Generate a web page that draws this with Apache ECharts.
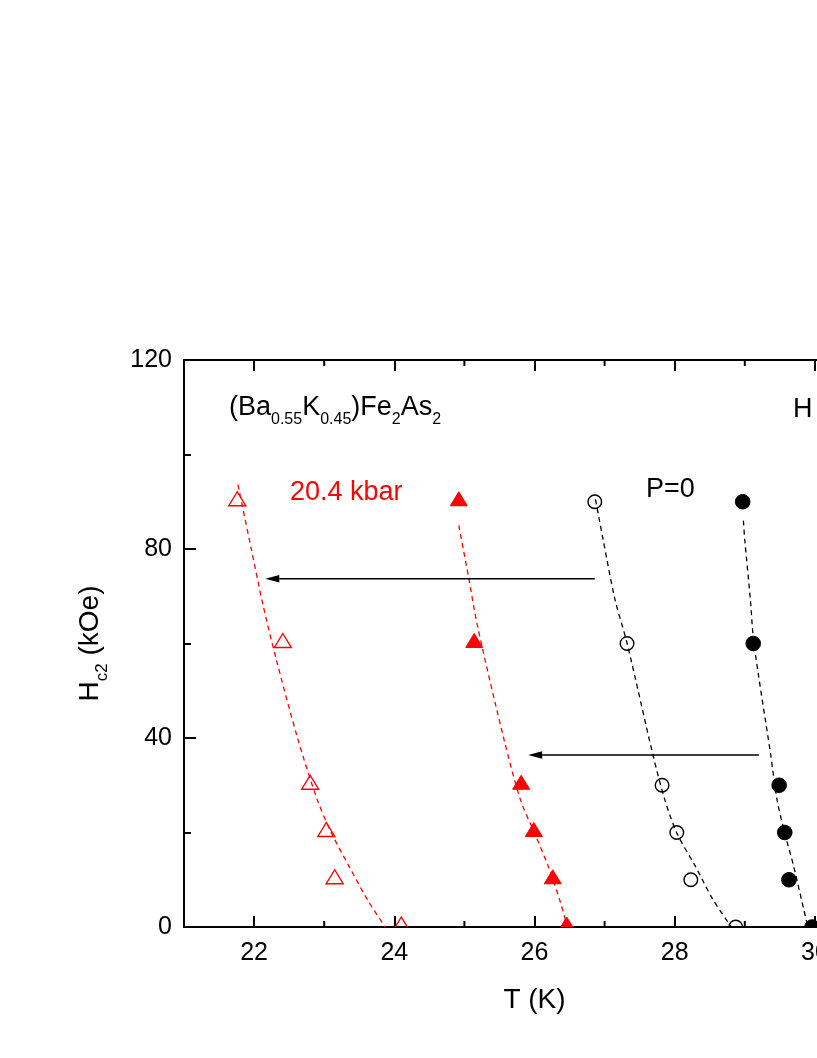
<!DOCTYPE html>
<html>
<head>
<meta charset="utf-8">
<script src="https://cdn.jsdelivr.net/npm/echarts@6/dist/echarts.min.js"></script>
<style>html,body{margin:0;padding:0;background:#fff}#c{width:817px;height:1058px}</style>
</head>
<body>
<div id="c"></div>
<script>
// ---- data ----
const hLevels = [90, 60, 30, 20, 10, 0];
const tOpenTri = [21.76, 22.41, 22.80, 23.03, 23.15, 24.10];   // 20.4 kbar, open triangles
const tFillTri = [24.92, 25.14, 25.81, 25.99, 26.26, 26.46];   // 20.4 kbar, filled triangles
const tOpenCirc = [26.86, 27.32, 27.82, 28.03, 28.23, 28.87];  // P=0, open circles
const tFillCirc = [28.97, 29.12, 29.49, 29.57, 29.63, 29.96];  // P=0, filled circles

const fitOpenTriT = [21.77, 21.96, 22.13, 22.31, 22.62, 22.90, 23.10, 23.36, 23.62, 23.87];
const fitOpenTriH = [93.6, 80, 68, 57, 40, 27, 20, 12.7, 5.7, 0];
const fitFillTriT = [24.92, 25.06, 25.19, 25.56, 25.80, 26.00, 26.20, 26.36, 26.47];
const fitFillTriH = [85, 74, 63.5, 40, 26.9, 19.9, 12.7, 5.7, 0];
const fitOpenCircT = [26.87, 26.98, 27.15, 27.32, 27.69, 27.86, 28.03, 28.30, 28.55, 28.81];
const fitOpenCircH = [90.5, 81.9, 69.2, 60.1, 36.4, 26.9, 19.9, 12.7, 5.7, 0];
const fitFillCircT = [28.98, 29.00, 29.08, 29.13, 29.37, 29.46, 29.57, 29.70, 29.81, 29.90];
const fitFillCircH = [86, 81.9, 69.2, 60.1, 36.4, 26.9, 19.9, 12.7, 5.7, 0];

const arrowStartT = [26.86, 29.20];
const arrowEndT = [22.16, 25.91];
const arrowH = [73.7, 36.4];

const xMin = 21, xMax = 31;
const xMajorTicks = [22, 24, 26, 28, 30];
const xMinorTicks = [23, 25, 27, 29];
const yMin = 0, yMax = 120, yInterval = 40;

// ---- chart ----
const FONT = 'Liberation Sans, Arial, sans-serif';
const RED = '#ff0000';
const chart = echarts.init(document.getElementById('c'), null, {renderer: 'canvas'});

function pairs(xs, ys) { return xs.map((x, i) => [x, ys[i]]); }

function markerSeries(ts, shape, filled, color) {
  return {
    type: 'custom', clip: true, z: 5,
    data: pairs(ts, hLevels),
    renderItem: (params, api) => {
      const p = api.coord([api.value(0), api.value(1)]);
      const style = filled ? {fill: color, stroke: color, lineWidth: 1}
                           : {fill: 'none', stroke: color, lineWidth: 1.4};
      if (shape === 'circle') {
        return {type: 'circle', shape: {cx: p[0], cy: p[1], r: filled ? 7.3 : 6.8}, style};
      }
      return {type: 'polygon', shape: {points: [[p[0], p[1] - 10], [p[0] + 8.5, p[1] + 4], [p[0] - 8.5, p[1] + 4]]}, style};
    }
  };
}

function fitSeries(ts, hs, color) {
  return {
    type: 'line', data: pairs(ts, hs), smooth: 0.3, symbol: 'none', z: 3,
    lineStyle: {color, width: 1.3, type: [5, 4]}
  };
}

function minorTickSeries(yVal, dir) {
  return {
    type: 'custom', clip: false, z: 6, silent: true,
    data: xMinorTicks.map(v => [v, yVal]),
    renderItem: (params, api) => {
      const p = api.coord([api.value(0), api.value(1)]);
      return {type: 'line', shape: {x1: p[0], y1: p[1], x2: p[0], y2: p[1] + dir * 6},
              style: {stroke: '#000', lineWidth: 2}};
    }
  };
}

const arrowSeries = {
  type: 'custom', clip: false, z: 4, silent: true,
  data: arrowH.map((h, i) => [arrowStartT[i], h, arrowEndT[i]]),
  renderItem: (params, api) => {
    const p1 = api.coord([api.value(0), api.value(1)]);
    const p2 = api.coord([api.value(2), api.value(1)]);
    const dx = p2[0] - p1[0], dy = p2[1] - p1[1];
    const L = Math.hypot(dx, dy), ux = dx / L, uy = dy / L;
    const hl = 14, hw = 3.8;
    const bx = p2[0] - ux * hl, by = p2[1] - uy * hl;
    return {type: 'group', children: [
      {type: 'line', shape: {x1: p1[0], y1: p1[1], x2: bx, y2: by}, style: {stroke: '#000', lineWidth: 1.3}},
      {type: 'polygon', shape: {points: [[p2[0], p2[1]], [bx - uy * hw, by + ux * hw], [bx + uy * hw, by - ux * hw]]},
       style: {fill: '#000'}}
    ]};
  }
};

const axisLineStyle = {lineStyle: {color: '#000', width: 2}};
const tickStyle = {lineStyle: {color: '#000', width: 2}};

const option = {
  animation: false,
  backgroundColor: '#fff',
  grid: {left: 184, top: 360, width: 701, height: 567, containLabel: false, outerBoundsMode: 'none'},
  xAxis: [
    {
      type: 'value', min: xMin, max: xMax, position: 'bottom',
      axisLine: Object.assign({show: true, onZero: false}, axisLineStyle),
      axisTick: Object.assign({show: true, inside: true, length: 11, customValues: xMajorTicks}, tickStyle),
      axisLabel: {show: true, customValues: xMajorTicks, fontFamily: FONT, fontSize: 25, color: '#000', margin: 14},
      splitLine: {show: false},
      name: 'T (K)', nameLocation: 'middle', nameGap: 59,
      nameTextStyle: {fontFamily: FONT, fontSize: 28, color: '#000'}
    },
    {
      type: 'value', min: xMin, max: xMax, position: 'top',
      axisLine: Object.assign({show: true, onZero: false}, axisLineStyle),
      axisTick: Object.assign({show: true, inside: true, length: 11, customValues: xMajorTicks}, tickStyle),
      axisLabel: {show: false},
      splitLine: {show: false}
    }
  ],
  yAxis: [
    {
      type: 'value', min: yMin, max: yMax, interval: yInterval, position: 'left',
      axisLine: Object.assign({show: true, onZero: false}, axisLineStyle),
      axisTick: Object.assign({show: true, inside: true, length: 12}, tickStyle),
      minorTick: {show: true, splitNumber: 2, length: 7, lineStyle: {color: '#000', width: 2}},
      axisLabel: {fontFamily: FONT, fontSize: 25, color: '#000', margin: 12},
      splitLine: {show: false},
      name: '{h|H}{s|c2}{h| (kOe)}', nameLocation: 'middle', nameGap: 76, nameRotate: 90,
      nameTextStyle: {
        fontFamily: FONT, fontSize: 28, color: '#000',
        rich: {
          h: {fontFamily: FONT, fontSize: 28, color: '#000', lineHeight: 32, verticalAlign: 'top'},
          s: {fontFamily: FONT, fontSize: 17, color: '#000', lineHeight: 32, verticalAlign: 'top', padding: [18, 0, 0, 0]}
        }
      }
    },
    {
      type: 'value', min: yMin, max: yMax, interval: yInterval, position: 'right',
      axisLine: Object.assign({show: true, onZero: false}, axisLineStyle),
      axisTick: Object.assign({show: true, inside: true, length: 12}, tickStyle),
      axisLabel: {show: false}, splitLine: {show: false}
    }
  ],
  series: [
    fitSeries(fitOpenTriT, fitOpenTriH, RED),
    fitSeries(fitFillTriT, fitFillTriH, RED),
    fitSeries(fitOpenCircT, fitOpenCircH, '#000'),
    fitSeries(fitFillCircT, fitFillCircH, '#000'),
    markerSeries(tOpenTri, 'triangle', false, RED),
    markerSeries(tFillTri, 'triangle', true, RED),
    markerSeries(tOpenCirc, 'circle', false, '#000'),
    markerSeries(tFillCirc, 'circle', true, '#000'),
    arrowSeries,
    minorTickSeries(yMin, -1),
    minorTickSeries(yMax, 1)
  ],
  graphic: [
    {
      type: 'text', x: 229, y: 394, z: 10,
      style: {
        text: '{m|(Ba}{s|0.55}{m|K}{s|0.45}{m|)Fe}{s|2}{m|As}{s|2}',
        fill: '#000', fontFamily: FONT, fontSize: 27, verticalAlign: 'top',
        rich: {
          m: {fontFamily: FONT, fontSize: 27, fill: '#000', lineHeight: 30, verticalAlign: 'top'},
          s: {fontFamily: FONT, fontSize: 16, fill: '#000', lineHeight: 30, verticalAlign: 'top', padding: [18, 0, 0, 0]}
        }
      }
    },
    {type: 'text', x: 290, y: 493, z: 10,
     style: {text: '20.4 kbar', fill: RED, fontFamily: FONT, fontSize: 27, verticalAlign: 'middle'}},
    {type: 'text', x: 646, y: 490, z: 10,
     style: {text: 'P=0', fill: '#000', fontFamily: FONT, fontSize: 27, verticalAlign: 'middle'}},
    {type: 'text', x: 793, y: 410, z: 10,
     style: {text: 'H', fill: '#000', fontFamily: FONT, fontSize: 27, verticalAlign: 'middle'}}
  ]
};
chart.setOption(option);
</script>
</body>
</html>
